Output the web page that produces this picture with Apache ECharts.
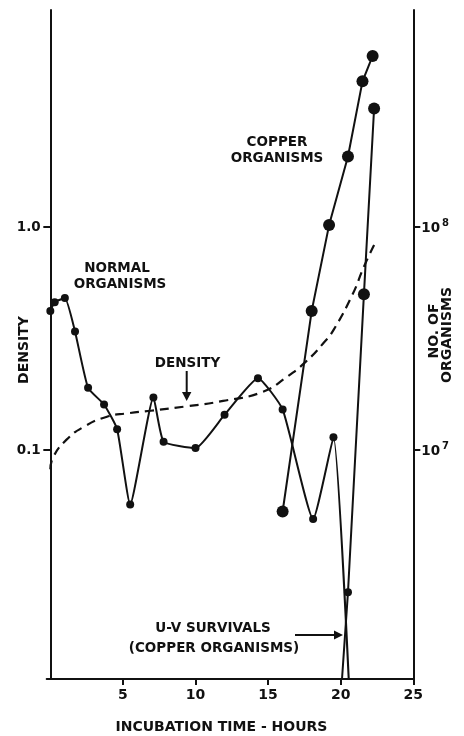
<!DOCTYPE html>
<html>
<head>
<meta charset="utf-8">
<title>Incubation time - hours</title>
<script src="https://cdn.jsdelivr.net/npm/echarts@6/dist/echarts.min.js"></script>
<style>
  html, body { margin: 0; padding: 0; background: #fff; }
  #chart { width: 464px; height: 736px; }
</style>
</head>
<body>
<div id="chart"></div>
<script>
// tick marks
var hourTicks = [5, 10, 15, 20, 25];
var densityTicks = [0.1, 1];
var densityTickText = ['0.1', '1.0'];
var countTicks = [1e7, 1e8];
var countTickExp = ['7', '8'];

// density (left axis, dashed)
var densityHours = [0, 0.2, 1.1, 2.3, 3.9, 5.3, 6.9, 9.4, 11.9, 14.6, 16.3, 17.6, 18.8, 19.5, 20.8, 21.6, 22.3];
var densityValues = [0.082, 0.093, 0.111, 0.127, 0.141, 0.146, 0.150, 0.157, 0.166, 0.182, 0.213, 0.249, 0.301, 0.345, 0.496, 0.664, 0.83];

// no. of organisms (right axis)
var normalHours = [0, 0.3, 1.0, 1.7, 2.6, 3.7, 4.6, 5.5, 7.1, 7.8, 10.0, 12.0, 14.3, 16.0, 18.1, 19.5, 20.9];
var normalCounts = [4.2e7, 4.6e7, 4.8e7, 3.4e7, 1.9e7, 1.6e7, 1.24e7, 5.7e6, 1.72e7, 1.09e7, 1.02e7, 1.44e7, 2.1e7, 1.52e7, 4.9e6, 1.14e7, 3e5];
var copperHours = [16.0, 18.0, 19.2, 20.5, 21.5, 22.2];
var copperCounts = [5.3e6, 4.2e7, 1.02e8, 2.07e8, 4.5e8, 5.85e8];
var uvHours = [19.8, 20.5, 21.6, 22.3];
var uvCounts = [5e5, 2.3e6, 5.0e7, 3.4e8];

function zip(xs, ys) {
    return xs.map(function (x, i) { return [x, ys[i]]; });
}

var FONT = 'DejaVu Sans';
var ink = '#111';

function label(text, x, y, size, rot) {
    return {
        type: 'text', x: x, y: y, rotation: rot || 0,
        style: {
            text: text, fill: ink, font: 'bold ' + (size || 13.5) + 'px "' + FONT + '"',
            textAlign: 'center', textVerticalAlign: 'middle'
        }
    };
}

var dom = document.getElementById('chart');
var myChart = echarts.init(dom);

var option = {
    animation: false,
    backgroundColor: '#fff',
    grid: { left: 46.7, right: 50.7, top: 10, bottom: 57 },
    xAxis: {
        type: 'value',
        min: -0.25,
        max: 25,
        splitLine: { show: false },
        axisLine: { lineStyle: { color: ink, width: 2 } },
        axisTick: { customValues: hourTicks, length: 6, lineStyle: { color: ink, width: 2 } },
        axisLabel: {
            customValues: hourTicks, color: ink, fontFamily: FONT,
            fontWeight: 'bold', fontSize: 14, margin: 9
        }
    },
    yAxis: [{
        type: 'log',
        min: 0.0094,
        max: 9.4,
        position: 'left',
        splitLine: { show: false },
        axisLine: { show: true, lineStyle: { color: ink, width: 2 } },
        axisTick: { customValues: densityTicks, length: 7, lineStyle: { color: ink, width: 2 } },
        axisLabel: {
            customValues: densityTicks, color: ink, fontFamily: FONT,
            fontWeight: 'bold', fontSize: 13.5, margin: 6,
            formatter: function (v) { return densityTickText[v >= 1 ? 1 : 0]; }
        }
    }, {
        type: 'log',
        min: 9.4e5,
        max: 9.4e8,
        position: 'right',
        splitLine: { show: false },
        axisLine: { show: true, lineStyle: { color: ink, width: 2 } },
        axisTick: { customValues: countTicks, length: 7, lineStyle: { color: ink, width: 2 } },
        axisLabel: {
            customValues: countTicks, color: ink, margin: 8,
            formatter: function (v) { return '{b|10}{s|' + countTickExp[v >= 1e8 ? 1 : 0] + '}'; },
            rich: {
                b: { fontFamily: FONT, fontWeight: 'bold', fontSize: 13.5, color: ink, verticalAlign: 'bottom' },
                s: { fontFamily: FONT, fontWeight: 'bold', fontSize: 10, color: ink, verticalAlign: 'bottom', padding: [0, 0, 7, 2] }
            }
        }
    }],
    series: [{
        name: 'Density',
        type: 'line',
        yAxisIndex: 0,
        data: zip(densityHours, densityValues),
        smooth: true,
        showSymbol: false,
        lineStyle: { color: ink, width: 2.2, type: [9, 6] },
        z: 2
    }, {
        name: 'Normal organisms',
        type: 'line',
        yAxisIndex: 1,
        data: zip(normalHours, normalCounts),
        smooth: 0.15,
        symbol: 'circle',
        symbolSize: 8,
        itemStyle: { color: ink },
        lineStyle: { color: ink, width: 2 },
        z: 3
    }, {
        name: 'Copper organisms',
        type: 'line',
        yAxisIndex: 1,
        data: zip(copperHours, copperCounts),
        symbol: 'circle',
        symbolSize: 12,
        itemStyle: { color: ink },
        lineStyle: { color: ink, width: 2 },
        z: 3
    }, {
        name: 'U-V survivals',
        type: 'line',
        yAxisIndex: 1,
        data: zip(uvHours, uvCounts),
        symbol: 'circle',
        symbolSize: function (val) { return val[1] < 1e7 ? 8 : 12; },
        itemStyle: { color: ink },
        lineStyle: { color: ink, width: 2 },
        z: 3
    }],
    graphic: [
        label('COPPER', 277, 142),
        label('ORGANISMS', 277, 158),
        label('NORMAL', 117, 268),
        label('ORGANISMS', 120, 284),
        label('DENSITY', 187.5, 363),
        { type: 'line', shape: { x1: 186.7, y1: 371, x2: 186.7, y2: 393 }, style: { stroke: ink, lineWidth: 2 } },
        { type: 'polygon', shape: { points: [[182, 392], [191.4, 392], [186.7, 401]] }, style: { fill: ink } },
        label('U-V SURVIVALS', 213, 628.5),
        label('(COPPER ORGANISMS)', 214, 648),
        { type: 'line', shape: { x1: 295, y1: 635, x2: 336, y2: 635 }, style: { stroke: ink, lineWidth: 2 } },
        { type: 'polygon', shape: { points: [[334, 630.5], [334, 639.5], [343, 635]] }, style: { fill: ink } },
        label('DENSITY', 24, 350, 14, Math.PI / 2),
        label('NO. OF', 434, 331, 14, Math.PI / 2),
        label('ORGANISMS', 447, 335, 14, Math.PI / 2),
        label('INCUBATION TIME - HOURS', 221.5, 727, 14)
    ]
};

if (option && typeof option === 'object') {
    myChart.setOption(option, true);
}
</script>
</body>
</html>
